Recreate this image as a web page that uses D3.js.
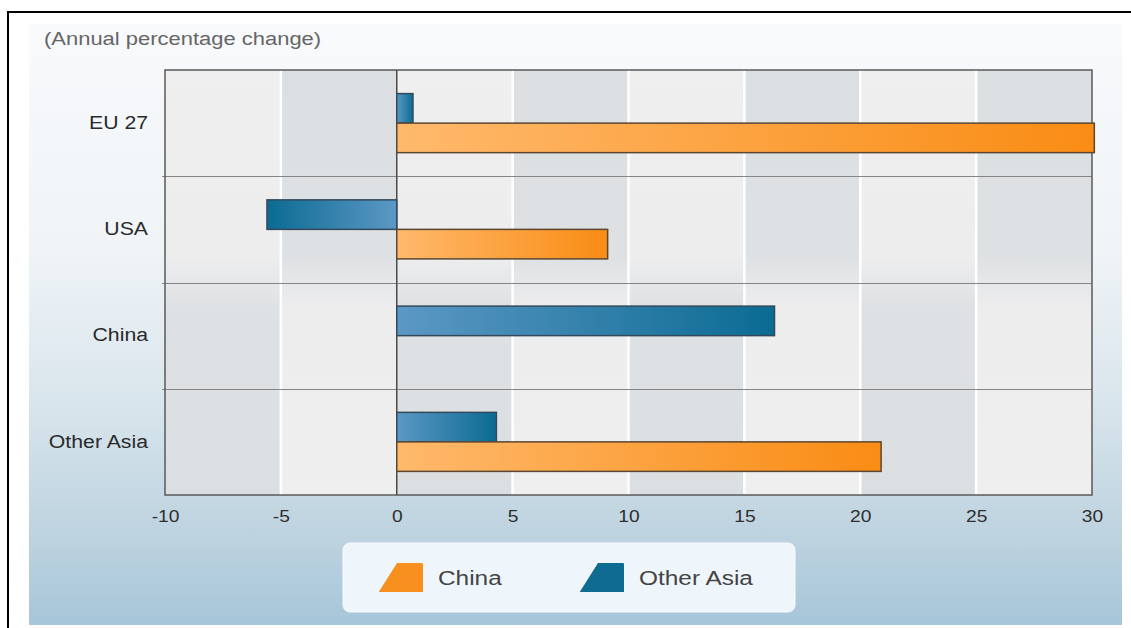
<!DOCTYPE html>
<html>
<head>
<meta charset="utf-8">
<script src="https://cdn.jsdelivr.net/npm/d3@7"></script>
<style>
  html, body { margin: 0; padding: 0; background: #ffffff; }
  svg { display: block; font-family: "Liberation Sans", Arial, sans-serif; }
</style>
</head>
<body>
<svg id="chart" width="1131" height="628"></svg>
<script>
// Annual percentage change by destination, two exporting groups
const categories = ["EU 27", "USA", "China", "Other Asia"];
const seriesNames = ["Other Asia", "China"];          // drawn top to bottom within a row
const otherAsiaValues = [0.7, -5.6, 16.3, 4.3];
const chinaValues = [30.1, 9.1, null, 20.9];
const xTicks = [-10, -5, 0, 5, 10, 15, 20, 25, 30];
const legendNames = ["China", "Other Asia"];
const titleText = "(Annual percentage change)";

const svg = d3.select("#chart");
const W = 1131, H = 628;
const margin = { left: 165, top: 70, right: W - 1092, bottom: H - 495 };
const innerW = W - margin.left - margin.right;
const innerH = H - margin.top - margin.bottom;

// Widen text a little, the way the original typeface sets
function widen(sel, k) {
  sel.each(function () {
    const len = this.getComputedTextLength();
    d3.select(this).attr("textLength", len * k).attr("lengthAdjust", "spacingAndGlyphs");
  });
}

const defs = svg.append("defs");

// Panel background: pale at top, light blue towards the bottom
const bg = defs.append("linearGradient").attr("id", "panelGrad")
  .attr("x1", 0).attr("y1", 0).attr("x2", 0).attr("y2", 1);
[[0, "#f8fafc"], [0.37, "#f0f4f7"], [0.62, "#dae6ed"], [0.86, "#bcd2df"], [1, "#a6c6d9"]]
  .forEach(([o, c]) => bg.append("stop").attr("offset", o).attr("stop-color", c));

// Column shading, alternating between upper and lower half
const darkTop = defs.append("linearGradient").attr("id", "colDarkTop")
  .attr("x1", 0).attr("y1", 0).attr("x2", 0).attr("y2", 1);
[[0, "#dcdfe2"], [0.44, "#dee1e3"], [0.56, "#ededee"], [1, "#efefef"]]
  .forEach(([o, c]) => darkTop.append("stop").attr("offset", o).attr("stop-color", c));
const darkBottom = defs.append("linearGradient").attr("id", "colDarkBottom")
  .attr("x1", 0).attr("y1", 0).attr("x2", 0).attr("y2", 1);
[[0, "#efefef"], [0.44, "#ededee"], [0.56, "#dee1e3"], [1, "#dcdfe2"]]
  .forEach(([o, c]) => darkBottom.append("stop").attr("offset", o).attr("stop-color", c));

// Bar fills: light near zero, saturated at the bar end
function barGradient(id, from, to, reverse) {
  const g = defs.append("linearGradient").attr("id", id)
    .attr("x1", reverse ? 1 : 0).attr("y1", 0).attr("x2", reverse ? 0 : 1).attr("y2", 0);
  g.append("stop").attr("offset", 0).attr("stop-color", from);
  g.append("stop").attr("offset", 1).attr("stop-color", to);
}
barGradient("orangePos", "#ffb96c", "#f98c14", false);
barGradient("orangeNeg", "#ffb96c", "#f98c14", true);
barGradient("bluePos", "#5c98c5", "#0b6b93", false);
barGradient("blueNeg", "#5c98c5", "#0b6b93", true);

// Frame lines of the figure
svg.append("rect").attr("x", 29).attr("y", 24).attr("width", 1093).attr("height", 601)
  .attr("fill", "url(#panelGrad)");
svg.append("line").attr("x1", 7).attr("x2", W).attr("y1", 12).attr("y2", 12)
  .attr("stroke", "#000").attr("stroke-width", 2);
svg.append("line").attr("x1", 8).attr("x2", 8).attr("y1", 11).attr("y2", H)
  .attr("stroke", "#000").attr("stroke-width", 2);

// Title
svg.append("text").attr("x", 44).attr("y", 45)
  .attr("font-size", 18).attr("fill", "#666").text(titleText)
  .call(widen, 1.22);

// Scales
const x = d3.scaleLinear().domain([xTicks[0], xTicks[xTicks.length - 1]]).range([0, innerW]);
const y = d3.scaleBand().domain(categories).range([0, innerH]).padding(0);
const ySub = d3.scaleBand().domain(seriesNames).range([0, y.bandwidth()])
  .paddingInner(0).paddingOuter(0.8);

const g = svg.append("g").attr("transform", `translate(${margin.left},${margin.top})`);

// Shaded columns between ticks
g.append("g").selectAll("rect")
  .data(d3.pairs(xTicks))
  .join("rect")
  .attr("x", d => x(d[0]))
  .attr("y", 0)
  .attr("width", d => x(d[1]) - x(d[0]))
  .attr("height", innerH)
  .attr("fill", (d, i) => i % 2 === 1 ? "url(#colDarkTop)" : "url(#colDarkBottom)");

// White grid lines at the ticks
g.append("g").selectAll("line")
  .data(xTicks.filter(t => t !== 0 && t !== xTicks[0] && t !== xTicks[xTicks.length - 1]))
  .join("line")
  .attr("x1", d => x(d)).attr("x2", d => x(d))
  .attr("y1", 0).attr("y2", innerH)
  .attr("stroke", "#ffffff").attr("stroke-width", 2.5);

// Row separators
g.append("g").selectAll("line")
  .data(categories.slice(1))
  .join("line")
  .attr("x1", -3).attr("x2", innerW)
  .attr("y1", d => Math.round(y(d)) + 0.5).attr("y2", d => Math.round(y(d)) + 0.5)
  .attr("stroke", "#858585").attr("stroke-width", 1);

// Plot frame and zero line
g.append("rect").attr("x", 0).attr("y", 0).attr("width", innerW).attr("height", innerH)
  .attr("fill", "none").attr("stroke", "#5a5a5a").attr("stroke-width", 1.5);
g.append("line").attr("x1", x(0)).attr("x2", x(0)).attr("y1", 0).attr("y2", innerH)
  .attr("stroke", "#4a4a4a").attr("stroke-width", 1.5);

// Bars
const rows = categories.map((c, i) => ({
  category: c,
  values: [
    { series: "Other Asia", value: otherAsiaValues[i] },
    { series: "China", value: chinaValues[i] }
  ]
}));
const colorKey = { "Other Asia": "blue", "China": "orange" };
const strokeKey = { "Other Asia": "#33495a", "China": "#5a4631" };

g.append("g").selectAll("g")
  .data(rows)
  .join("g")
  .attr("transform", d => `translate(0,${y(d.category)})`)
  .selectAll("rect")
  .data(d => d.values.filter(v => v.value !== null))
  .join("rect")
  .attr("x", d => x(Math.min(0, d.value)))
  .attr("y", d => ySub(d.series))
  .attr("width", d => Math.abs(x(d.value) - x(0)))
  .attr("height", ySub.bandwidth())
  .attr("fill", d => `url(#${colorKey[d.series]}${d.value < 0 ? "Neg" : "Pos"})`)
  .attr("stroke", d => strokeKey[d.series])
  .attr("stroke-width", 1.5);

// Axes
const xAxis = g.append("g").attr("transform", `translate(0,${innerH})`)
  .call(d3.axisBottom(x).tickValues(xTicks).tickSize(0).tickPadding(16).tickFormat(d => String(d)));
xAxis.select(".domain").remove();
xAxis.selectAll("text").attr("font-size", 16).attr("fill", "#2e2e2e")
  .attr("font-family", "Liberation Sans, Arial, sans-serif")
  .call(widen, 1.2);

const yAxis = g.append("g")
  .call(d3.axisLeft(y).tickSize(0).tickPadding(17));
yAxis.select(".domain").remove();
yAxis.selectAll("text").attr("font-size", 18).attr("fill", "#2a2a2a")
  .attr("font-family", "Liberation Sans, Arial, sans-serif")
  .call(widen, 1.18);

// Legend
const legend = svg.append("g").attr("transform", "translate(343,543)");
legend.append("rect").attr("width", 452).attr("height", 69).attr("rx", 7)
  .attr("fill", "#eef6fb").attr("stroke", "#f6fbfe").attr("stroke-width", 1);
const legendColor = { "China": "#f7901e", "Other Asia": "#0f6b91" };
const legendX = [36, 237];
const items = legend.selectAll("g.item")
  .data(legendNames)
  .join("g").attr("class", "item")
  .attr("transform", (d, i) => `translate(${legendX[i]},20)`);
items.append("path")
  .attr("d", "M18,0 L43,0 Q44,0 44,1 L44,29 L0,29 Q0,28 1,27 Z")
  .attr("fill", d => legendColor[d]);
items.append("text")
  .attr("x", 59).attr("y", 22)
  .attr("font-size", 20).attr("fill", "#444")
  .text(d => d)
  .call(widen, 1.22);
</script>
</body>
</html>
